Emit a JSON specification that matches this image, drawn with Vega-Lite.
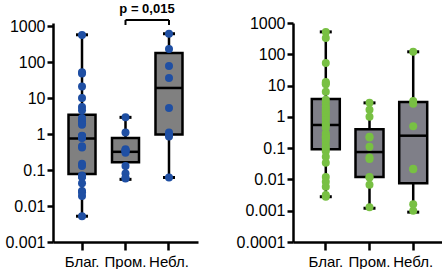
{
  "$schema": "https://vega.github.io/schema/vega-lite/v6.json",
  "padding": {"left": 4, "top": 2, "right": 0, "bottom": 0},
  "spacing": 38,
  "config": {
    "view": {"stroke": null},
    "font": "Liberation Sans",
    "axis": {"domainColor": "black", "domainWidth": 2.5, "tickColor": "black", "tickWidth": 2.5, "tickSize": 6, "labelColor": "black", "labelFontSize": 16, "labelFont": "Liberation Sans", "grid": false, "title": null, "labelPadding": 2, "labelFlush": false, "labelOverlap": false},
    "axisX": {"labelAngle": 0, "tickSize": 8, "labelPadding": 4, "labelFontSize": 15}
  },
  "datasets": {
    "sumL": [
      {"group": "Благ.", "min": 0.0052, "q1": 0.078, "med": 0.75, "q3": 3.4, "max": 570},
      {"group": "Пром.", "min": 0.055, "q1": 0.165, "med": 0.32, "q3": 0.78, "max": 2.9},
      {"group": "Небл.", "min": 0.062, "q1": 0.97, "med": 19, "q3": 178, "max": 610}
    ],
    "ptsL": [
      {"group": "Благ.", "value": 560}, {"group": "Благ.", "value": 52}, {"group": "Благ.", "value": 48},
      {"group": "Благ.", "value": 21}, {"group": "Благ.", "value": 10}, {"group": "Благ.", "value": 5.6},
      {"group": "Благ.", "value": 4.6}, {"group": "Благ.", "value": 2.8}, {"group": "Благ.", "value": 2.5},
      {"group": "Благ.", "value": 2.2}, {"group": "Благ.", "value": 2.0}, {"group": "Благ.", "value": 1.8},
      {"group": "Благ.", "value": 0.9}, {"group": "Благ.", "value": 0.88}, {"group": "Благ.", "value": 0.85},
      {"group": "Благ.", "value": 0.82}, {"group": "Благ.", "value": 0.8}, {"group": "Благ.", "value": 0.78},
      {"group": "Благ.", "value": 0.46}, {"group": "Благ.", "value": 0.42}, {"group": "Благ.", "value": 0.15},
      {"group": "Благ.", "value": 0.13}, {"group": "Благ.", "value": 0.07}, {"group": "Благ.", "value": 0.068},
      {"group": "Благ.", "value": 0.066}, {"group": "Благ.", "value": 0.064}, {"group": "Благ.", "value": 0.043},
      {"group": "Благ.", "value": 0.026}, {"group": "Благ.", "value": 0.024}, {"group": "Благ.", "value": 0.019},
      {"group": "Благ.", "value": 0.0052},
      {"group": "Пром.", "value": 2.9}, {"group": "Пром.", "value": 1.1}, {"group": "Пром.", "value": 0.38},
      {"group": "Пром.", "value": 0.36}, {"group": "Пром.", "value": 0.32}, {"group": "Пром.", "value": 0.3},
      {"group": "Пром.", "value": 0.35}, {"group": "Пром.", "value": 0.13}, {"group": "Пром.", "value": 0.08},
      {"group": "Пром.", "value": 0.06}, {"group": "Пром.", "value": 0.058},
      {"group": "Небл.", "value": 610}, {"group": "Небл.", "value": 230}, {"group": "Небл.", "value": 78},
      {"group": "Небл.", "value": 36}, {"group": "Небл.", "value": 5.3}, {"group": "Небл.", "value": 1.1},
      {"group": "Небл.", "value": 0.95}, {"group": "Небл.", "value": 0.85}, {"group": "Небл.", "value": 0.062}
    ],
    "sumR": [
      {"group": "Благ.", "min": 0.0028, "q1": 0.093, "med": 0.55, "q3": 3.7, "max": 520},
      {"group": "Пром.", "min": 0.0012, "q1": 0.012, "med": 0.075, "q3": 0.4, "max": 2.8},
      {"group": "Небл.", "min": 0.0009, "q1": 0.0075, "med": 0.25, "q3": 3.0, "max": 120}
    ],
    "ptsR": [
      {"group": "Благ.", "value": 520}, {"group": "Благ.", "value": 330}, {"group": "Благ.", "value": 53},
      {"group": "Благ.", "value": 13}, {"group": "Благ.", "value": 12}, {"group": "Благ.", "value": 11},
      {"group": "Благ.", "value": 6.3}, {"group": "Благ.", "value": 3.5}, {"group": "Благ.", "value": 2.8},
      {"group": "Благ.", "value": 2.2}, {"group": "Благ.", "value": 1.8}, {"group": "Благ.", "value": 1.5},
      {"group": "Благ.", "value": 1.3}, {"group": "Благ.", "value": 1.1}, {"group": "Благ.", "value": 0.93},
      {"group": "Благ.", "value": 0.8}, {"group": "Благ.", "value": 0.6}, {"group": "Благ.", "value": 0.55},
      {"group": "Благ.", "value": 0.45}, {"group": "Благ.", "value": 0.3}, {"group": "Благ.", "value": 0.25},
      {"group": "Благ.", "value": 0.23}, {"group": "Благ.", "value": 0.22}, {"group": "Благ.", "value": 0.2},
      {"group": "Благ.", "value": 0.16}, {"group": "Благ.", "value": 0.12}, {"group": "Благ.", "value": 0.1},
      {"group": "Благ.", "value": 0.08}, {"group": "Благ.", "value": 0.053}, {"group": "Благ.", "value": 0.034},
      {"group": "Благ.", "value": 0.012}, {"group": "Благ.", "value": 0.0084}, {"group": "Благ.", "value": 0.0058},
      {"group": "Благ.", "value": 0.0032}, {"group": "Благ.", "value": 0.0028},
      {"group": "Пром.", "value": 2.8}, {"group": "Пром.", "value": 1.7}, {"group": "Пром.", "value": 1.0},
      {"group": "Пром.", "value": 0.23}, {"group": "Пром.", "value": 0.22}, {"group": "Пром.", "value": 0.11},
      {"group": "Пром.", "value": 0.05}, {"group": "Пром.", "value": 0.045}, {"group": "Пром.", "value": 0.012},
      {"group": "Пром.", "value": 0.0115}, {"group": "Пром.", "value": 0.0067}, {"group": "Пром.", "value": 0.0013},
      {"group": "Небл.", "value": 120}, {"group": "Небл.", "value": 3.2}, {"group": "Небл.", "value": 2.6},
      {"group": "Небл.", "value": 0.5}, {"group": "Небл.", "value": 0.022}, {"group": "Небл.", "value": 0.021},
      {"group": "Небл.", "value": 0.0016}, {"group": "Небл.", "value": 0.001}
    ]
  },
  "hconcat": [
    {
      "width": 145,
      "height": 219,
      "encoding": {
        "x": {"field": "group", "type": "nominal", "sort": null, "scale": {"domain": ["Благ.", "Пром.", "Небл."], "paddingInner": 0, "paddingOuter": 0.167}, "axis": {"title": null}}
      },
      "layer": [
        {"data": {"name": "sumL"}, "mark": {"type": "rule", "stroke": "black", "strokeWidth": 2.5},
         "encoding": {"y": {"field": "min", "type": "quantitative", "scale": {"type": "log", "domain": [0.001, 1212], "nice": false}, "axis": {"values": [0.001, 0.01, 0.1, 1, 10, 100, 1000], "format": "~g"}}, "y2": {"field": "max"}}},
        {"data": {"name": "sumL"}, "mark": {"type": "bar", "size": 27, "fill": "#808080", "stroke": "black", "strokeWidth": 2.5},
         "encoding": {"y": {"field": "q1", "type": "quantitative"}, "y2": {"field": "q3"}}},
        {"data": {"name": "sumL"}, "mark": {"type": "tick", "size": 27, "thickness": 2.5, "color": "black", "opacity": 1},
         "encoding": {"y": {"field": "med", "type": "quantitative"}}},
        {"data": {"name": "sumL"}, "mark": {"type": "tick", "size": 12, "thickness": 3, "color": "black", "opacity": 1},
         "encoding": {"y": {"field": "min", "type": "quantitative"}}},
        {"data": {"name": "sumL"}, "mark": {"type": "tick", "size": 12, "thickness": 3, "color": "black", "opacity": 1},
         "encoding": {"y": {"field": "max", "type": "quantitative"}}},
        {"data": {"name": "ptsL"}, "mark": {"type": "circle", "size": 64, "color": "#1f4fa3", "opacity": 1},
         "encoding": {"y": {"field": "value", "type": "quantitative"}}},
        {"data": {"values": [{}]}, "mark": {"type": "rule", "stroke": "black", "strokeWidth": 2},
         "encoding": {"x": {"datum": "Пром."}, "x2": {"datum": "Небл."}, "y": {"datum": 1468}}},
        {"data": {"values": [{}]}, "mark": {"type": "rule", "stroke": "black", "strokeWidth": 2},
         "encoding": {"x": {"datum": "Пром."}, "y": {"datum": 1468}, "y2": {"datum": 1066}}},
        {"data": {"values": [{}]}, "mark": {"type": "rule", "stroke": "black", "strokeWidth": 2},
         "encoding": {"x": {"datum": "Небл."}, "y": {"datum": 1468}, "y2": {"datum": 1066}}},
        {"data": {"values": [{}]}, "mark": {"type": "text", "text": "p = 0,015", "fontWeight": "bold", "fontSize": 13, "font": "Liberation Sans", "dx": 21.5, "color": "black", "baseline": "middle"},
         "encoding": {"x": {"datum": "Пром."}, "y": {"datum": 2968}}}
      ]
    },
    {
      "width": 153,
      "height": 219,
      "encoding": {
        "x": {"field": "group", "type": "nominal", "sort": null, "scale": {"domain": ["Благ.", "Пром.", "Небл."], "paddingInner": 0, "paddingOuter": 0.25}, "axis": {"title": null}}
      },
      "layer": [
        {"data": {"name": "sumR"}, "mark": {"type": "rule", "stroke": "black", "strokeWidth": 2.5},
         "encoding": {"y": {"field": "min", "type": "quantitative", "scale": {"type": "log", "domain": [0.0001, 1000], "nice": false}, "axis": {"values": [0.0001, 0.001, 0.01, 0.1, 1, 10, 100, 1000], "format": "~g"}}, "y2": {"field": "max"}}},
        {"data": {"name": "sumR"}, "mark": {"type": "bar", "size": 28, "fill": "#7f7f88", "stroke": "black", "strokeWidth": 2.5},
         "encoding": {"y": {"field": "q1", "type": "quantitative"}, "y2": {"field": "q3"}}},
        {"data": {"name": "sumR"}, "mark": {"type": "tick", "size": 28, "thickness": 2.5, "color": "black", "opacity": 1},
         "encoding": {"y": {"field": "med", "type": "quantitative"}}},
        {"data": {"name": "sumR"}, "mark": {"type": "tick", "size": 12, "thickness": 3, "color": "black", "opacity": 1},
         "encoding": {"y": {"field": "min", "type": "quantitative"}}},
        {"data": {"name": "sumR"}, "mark": {"type": "tick", "size": 12, "thickness": 3, "color": "black", "opacity": 1},
         "encoding": {"y": {"field": "max", "type": "quantitative"}}},
        {"data": {"name": "ptsR"}, "mark": {"type": "circle", "size": 64, "color": "#78c043", "opacity": 1},
         "encoding": {"y": {"field": "value", "type": "quantitative"}}}
      ]
    }
  ]
}
